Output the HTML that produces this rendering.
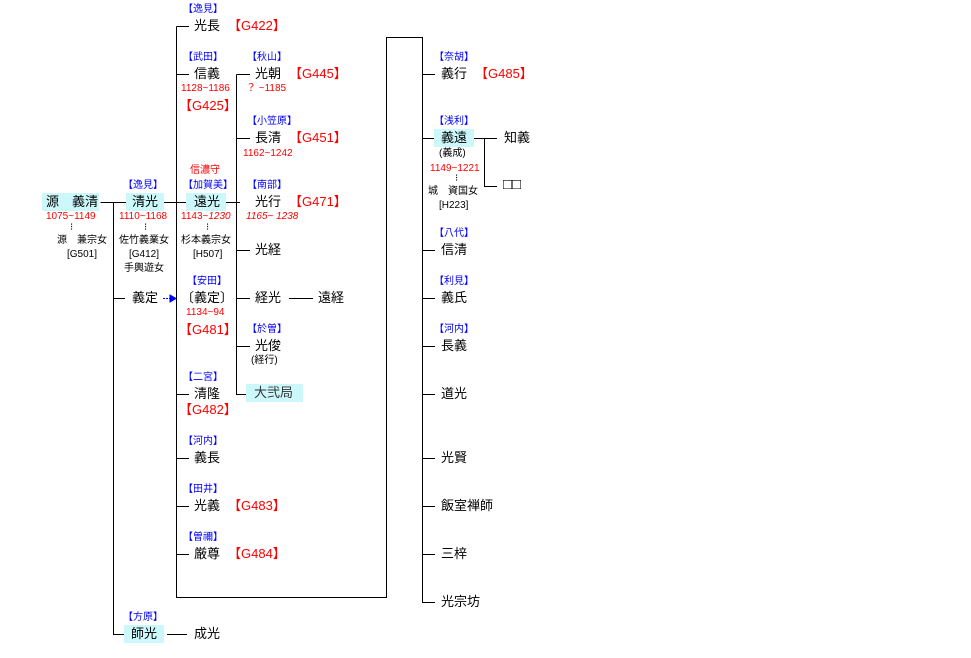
<!DOCTYPE html>
<html><head><meta charset="utf-8"><style>
body{margin:0;background:#fff;width:971px;height:658px;position:relative;overflow:hidden;font-family:"Liberation Sans","Noto Sans CJK JP",sans-serif}
.t{position:absolute;font-size:13px;line-height:16px;white-space:nowrap;color:#000}
.b{position:absolute;font-size:10px;line-height:12px;white-space:nowrap;color:#00f;margin-left:-3px}
.r{position:absolute;font-size:10px;line-height:12px;white-space:nowrap;color:#f00}
.s{position:absolute;font-size:10px;line-height:12px;white-space:nowrap;color:#000}
.g{position:absolute;font-size:13px;line-height:16px;white-space:nowrap;color:#f00}
.hl{position:absolute;background:#ccf8fc}
svg{position:absolute;left:0;top:0}
</style></head><body>
<div class="hl" style="left:42px;top:193px;width:57px;height:18px"></div>
<div class="hl" style="left:126px;top:193px;width:38px;height:18px"></div>
<div class="hl" style="left:186px;top:193px;width:40px;height:18px"></div>
<div class="hl" style="left:434px;top:129px;width:40px;height:18px"></div>
<div class="hl" style="left:246px;top:384px;width:57px;height:18px"></div>
<div class="hl" style="left:124px;top:625px;width:40px;height:18px"></div>
<svg width="971" height="658" stroke="#000" stroke-width="1" fill="none">
<path d="M100.5 202.5H126M113.5 202.5V634.5H124M113.5 298.5H125M164 202.5H186M226 202.5H240"/>
<path d="M176.5 26.5V597.5H386.5V37.5H422.5V602.5H435M176.5 26.5H189M176.5 74.5H189M176.5 394.5H189M176.5 458.5H189M176.5 506.5H189M176.5 554.5H189"/>
<path d="M236.5 74.5V394.5H246M236.5 74.5H250M236.5 138.5H250M236.5 250.5H250M236.5 298.5H250M236.5 346.5H250M289 298.5H313M167 634.5H187"/>
<path d="M422.5 74.5H435M422.5 138.5H434M422.5 250.5H435M422.5 298.5H435M422.5 346.5H435M422.5 394.5H435M422.5 458.5H435M422.5 506.5H435M422.5 554.5H435"/>
<path d="M474 138.5H497M484.5 138.5V186.5H497"/>
<path d="M163 298.5H170" stroke="#00f" stroke-dasharray="2,1"/>
<path d="M170 295L176 298.5L170 302Z" fill="#00f" stroke="#00f"/>
</svg>
<div class="t" style="left:46px;top:194px">源　義清</div>
<div class="r" style="left:46px;top:211px">1075~1149</div>
<div class="s" style="left:70px;top:222px">⁝</div>
<div class="s" style="left:57px;top:235px">源　兼宗女</div>
<div class="s" style="left:67px;top:249px">[G501]</div>
<div class="b" style="left:126px;top:180px">【逸見】</div>
<div class="t" style="left:132px;top:194px">清光</div>
<div class="r" style="left:119px;top:211px">1110~1168</div>
<div class="s" style="left:144px;top:222px">⁝</div>
<div class="s" style="left:119px;top:235px">佐竹義業女</div>
<div class="s" style="left:129px;top:249px">[G412]</div>
<div class="s" style="left:124px;top:263px">手輿遊女</div>
<div class="t" style="left:132px;top:290px">義定</div>
<div class="b" style="left:186px;top:4px">【逸見】</div>
<div class="t" style="left:194px;top:18px">光長</div>
<div class="g" style="left:228px;top:18px">【G422】</div>
<div class="b" style="left:186px;top:52px">【武田】</div>
<div class="t" style="left:194px;top:66px">信義</div>
<div class="r" style="left:181px;top:83px">1128~1186</div>
<div class="g" style="left:179px;top:98px">【G425】</div>
<div class="r" style="left:190px;top:165px">信濃守</div>
<div class="b" style="left:186px;top:180px">【加賀美】</div>
<div class="t" style="left:194px;top:194px">遠光</div>
<div class="r" style="left:181px;top:211px">1143~<i>1230</i></div>
<div class="s" style="left:206px;top:222px">⁝</div>
<div class="s" style="left:181px;top:235px">杉本義宗女</div>
<div class="s" style="left:193px;top:249px">[H507]</div>
<div class="b" style="left:190px;top:276px">【安田】</div>
<div class="t" style="left:181px;top:290px">〔義定〕</div>
<div class="r" style="left:186px;top:307px">1134~94</div>
<div class="g" style="left:179px;top:322px">【G481】</div>
<div class="b" style="left:186px;top:372px">【二宮】</div>
<div class="t" style="left:194px;top:386px">清隆</div>
<div class="g" style="left:179px;top:402px">【G482】</div>
<div class="b" style="left:186px;top:436px">【河内】</div>
<div class="t" style="left:194px;top:450px">義長</div>
<div class="b" style="left:186px;top:484px">【田井】</div>
<div class="t" style="left:194px;top:498px">光義</div>
<div class="g" style="left:228px;top:498px">【G483】</div>
<div class="b" style="left:186px;top:532px">【曽禰】</div>
<div class="t" style="left:194px;top:546px">厳尊</div>
<div class="g" style="left:228px;top:546px">【G484】</div>
<div class="b" style="left:250px;top:52px">【秋山】</div>
<div class="t" style="left:255px;top:66px">光朝</div>
<div class="g" style="left:289px;top:66px">【G445】</div>
<div class="r" style="left:246px;top:83px">？ ~1185</div>
<div class="b" style="left:250px;top:116px">【小笠原】</div>
<div class="t" style="left:255px;top:130px">長清</div>
<div class="g" style="left:289px;top:130px">【G451】</div>
<div class="r" style="left:243px;top:148px">1162~1242</div>
<div class="b" style="left:250px;top:180px">【南部】</div>
<div class="t" style="left:255px;top:194px">光行</div>
<div class="g" style="left:289px;top:194px">【G471】</div>
<div class="r" style="left:246px;top:211px"><i>1165~ 1238</i></div>
<div class="t" style="left:255px;top:242px">光経</div>
<div class="t" style="left:255px;top:290px">経光</div>
<div class="t" style="left:318px;top:290px">遠経</div>
<div class="b" style="left:250px;top:324px">【於曽】</div>
<div class="t" style="left:255px;top:338px">光俊</div>
<div class="s" style="left:251px;top:355px">(経行)</div>
<div class="t" style="left:254px;top:385px;color:#333">大弐局</div>
<div class="b" style="left:437px;top:52px">【奈胡】</div>
<div class="t" style="left:441px;top:66px">義行</div>
<div class="g" style="left:475px;top:66px">【G485】</div>
<div class="b" style="left:437px;top:116px">【浅利】</div>
<div class="t" style="left:441px;top:130px">義遠</div>
<div class="s" style="left:439px;top:148px">(義成)</div>
<div class="r" style="left:430px;top:163px">1149~1221</div>
<div class="s" style="left:455px;top:173px">⁝</div>
<div class="s" style="left:428px;top:186px">城　資国女</div>
<div class="s" style="left:439px;top:200px">[H223]</div>
<div class="t" style="left:504px;top:130px">知義</div>
<div class="t" style="left:503px;top:177px;font-size:15px">□□</div>
<div class="b" style="left:437px;top:228px">【八代】</div>
<div class="t" style="left:441px;top:242px">信清</div>
<div class="b" style="left:437px;top:276px">【利見】</div>
<div class="t" style="left:441px;top:290px">義氏</div>
<div class="b" style="left:437px;top:324px">【河内】</div>
<div class="t" style="left:441px;top:338px">長義</div>
<div class="t" style="left:441px;top:386px">道光</div>
<div class="t" style="left:441px;top:450px">光賢</div>
<div class="t" style="left:441px;top:498px">飯室禅師</div>
<div class="t" style="left:441px;top:546px">三梓</div>
<div class="t" style="left:441px;top:594px">光宗坊</div>
<div class="b" style="left:126px;top:612px">【方原】</div>
<div class="t" style="left:131px;top:626px">師光</div>
<div class="t" style="left:194px;top:626px">成光</div>
</body></html>
